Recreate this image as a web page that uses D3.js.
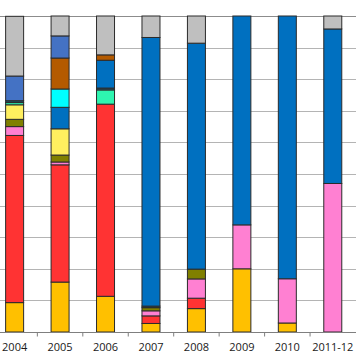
<!DOCTYPE html>
<html>
<head>
<meta charset="utf-8">
<script src="https://cdn.jsdelivr.net/npm/d3@7"></script>
<style>
  html, body { margin: 0; padding: 0; background: #fff; }
  svg { display: block; }
</style>
</head>
<body>
<script>
// ---- Data (percent shares, bottom to top) ----
const categories = ["2004", "2005", "2006", "2007", "2008", "2009", "2010", "2011-12"];
const gold     = [9.3, 15.8, 11.3, 2.7, 7.4, 20.0, 2.85, 0];
const red      = [52.9, 37.1, 60.8, 2.4, 3.3, 0, 0, 0];
const pink     = [2.8, 0.9, 0, 1.6, 6.1, 13.9, 14.0, 47.0];
const olive    = [2.3, 2.2, 0, 1.0, 3.1, 0, 0, 0];
const yellow   = [4.6, 8.3, 0, 0, 0, 0, 0, 0];
const mint     = [0.7, 0, 4.5, 0, 0, 0, 0, 0];
const navy     = [0.6, 0, 0.6, 0.5, 0, 0, 0, 0];
const blue     = [0, 6.8, 8.8, 85.0, 71.5, 66.1, 83.15, 48.9];
const cyan     = [0, 5.8, 0, 0, 0, 0, 0, 0];
const brown    = [0, 9.8, 1.7, 0, 0, 0, 0, 0];
const midblue  = [7.8, 7.0, 0, 0, 0, 0, 0, 0];
const grey     = [18.9, 6.3, 12.3, 6.8, 8.6, 0, 0, 4.1];
const yTicks   = [0, 10, 20, 30, 40, 50, 60, 70, 80, 90, 100];

const seriesNames = ["gold","red","pink","olive","yellow","mint","navy","blue","cyan","brown","midblue","grey"];
const seriesValues = [gold, red, pink, olive, yellow, mint, navy, blue, cyan, brown, midblue, grey];
const colors = {
  gold: "#FFC000", red: "#FF3333", pink: "#FF80D2", olive: "#808000",
  yellow: "#FFEF5F", mint: "#2EF5B0", navy: "#1F4E5F", blue: "#0070C0",
  cyan: "#00FFFF", brown: "#B45A00", midblue: "#4472C4", grey: "#BFBFBF"
};

const table = categories.map((c, i) => {
  const row = { cat: c };
  seriesNames.forEach((k, j) => row[k] = seriesValues[j][i]);
  return row;
});

const W = 356, H = 364;
const svg = d3.select("body").append("svg").attr("width", W).attr("height", H);

const x = d3.scaleBand().domain(categories).range([-8.1, 355.5])
  .paddingInner(0.604).paddingOuter(0.302);
const y = d3.scaleLinear().domain([0, 100]).range([332, 16]);

// gridlines
svg.append("g").selectAll("line").data(yTicks.filter(t => t > 0)).join("line")
  .attr("x1", 0).attr("x2", W)
  .attr("y1", d => Math.round(y(d)) + 0.5).attr("y2", d => Math.round(y(d)) + 0.5)
  .attr("stroke", d => d === 100 ? "#8c8c8c" : "#b4b4b4")
  .attr("stroke-width", 1);

// stacked bars
const stack = d3.stack().keys(seriesNames);
const layers = stack(table);
svg.append("g").selectAll("g").data(layers).join("g")
  .attr("fill", d => colors[d.key])
  .selectAll("rect").data(d => d.filter(p => p[1] - p[0] > 0)).join("rect")
  .attr("x", d => x(d.data.cat))
  .attr("width", x.bandwidth())
  .attr("y", d => y(d[1]))
  .attr("height", d => y(d[0]) - y(d[1]))
  .attr("stroke", "#2b2b2b")
  .attr("stroke-width", 1);

// x axis
const xAxis = d3.axisBottom(x).tickSize(0).tickPadding(11);
const gx = svg.append("g").attr("transform", "translate(0,332.5)").call(xAxis);
gx.select(".domain").remove();
gx.append("line").attr("x1", 0).attr("x2", W).attr("y1", 0).attr("y2", 0)
  .attr("stroke", "#7f7f7f");
// ticks between categories
const bounds = categories.slice(1).map(c => x(c) - x.step() * x.paddingInner() / 2);
gx.selectAll(".sep").data(bounds).join("line").attr("class", "sep")
  .attr("x1", d => d).attr("x2", d => d).attr("y1", 0).attr("y2", 4)
  .attr("stroke", "#7f7f7f");
gx.selectAll(".tick text")
  .attr("font-family", "'Open Sans', 'Liberation Sans', sans-serif")
  .attr("font-size", "11px")
  .attr("fill", "#1a1a1a");
</script>
</body>
</html>
